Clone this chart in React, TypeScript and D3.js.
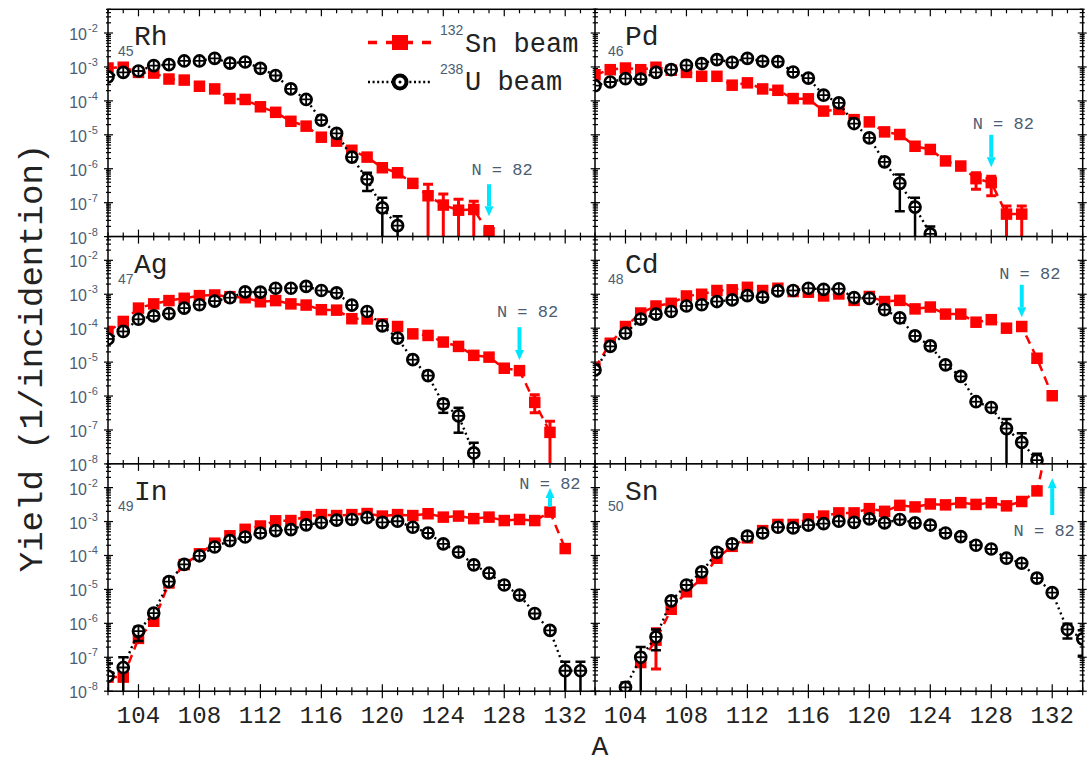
import React from 'react';
import * as d3 from 'd3';

// ---------- data (yield per incident ion), consecutive mass numbers from the start value ----------
const xDomain = [102, 134];
const yDomain = [1e-8, 0.05];
const xTickLabels = [104, 108, 112, 116, 120, 124, 128, 132];
const yTickExponents = [-8, -7, -6, -5, -4, -3, -2];

const panelElements = ['Rh', 'Pd', 'Ag', 'Cd', 'In', 'Sn'];
const panelZ = ['45', '46', '47', '48', '49', '50'];

const rhSnStart = 102;
const rhSn = [9.3e-4, 9.8e-4, 6.9e-4, 6.6e-4, 4.4e-4, 4.1e-4, 2.7e-4, 2.25e-4, 1.17e-4, 1.1e-4, 6.7e-5, 4.6e-5, 2.5e-5, 1.8e-5, 8.5e-6, 6.5e-6, 3.5e-6, 2.2e-6, 1.07e-6, 7.6e-7, 3.7e-7, 1.6e-7, 8.5e-8, 6e-8, 6.3e-8, 1.3e-8];
const rhUStart = 102;
const rhU = [5.1e-4, 6.9e-4, 7.6e-4, 1.1e-3, 1.17e-3, 1.5e-3, 1.5e-3, 1.8e-3, 1.3e-3, 1.4e-3, 9.1e-4, 5.6e-4, 2.25e-4, 1.1e-4, 2.7e-5, 1.1e-5, 2.2e-6, 4.9e-7, 7e-8, 2.1e-8];

const pdSnStart = 102;
const pdSn = [5.9e-4, 8.3e-4, 9.3e-4, 8.3e-4, 9.8e-4, 8e-4, 6.9e-4, 5.3e-4, 5.3e-4, 2.9e-4, 3.4e-4, 2.25e-4, 2.05e-4, 1.17e-4, 1.15e-4, 5e-5, 5.6e-5, 2.8e-5, 2.4e-5, 1.22e-5, 1.02e-5, 4.6e-6, 3.7e-6, 1.7e-6, 1.2e-6, 5.1e-7, 3.9e-7, 4.6e-8, 4.6e-8];
const pdUStart = 102;
const pdU = [2.8e-4, 3.6e-4, 4.5e-4, 4.4e-4, 6.9e-4, 8.3e-4, 1.12e-3, 1.25e-3, 1.65e-3, 1.37e-3, 1.8e-3, 1.47e-3, 1.44e-3, 7.1e-4, 4.7e-4, 1.47e-4, 8.7e-5, 2.15e-5, 8.1e-6, 1.6e-6, 3.7e-7, 7.4e-8, 1.2e-8];

const agSnStart = 102;
const agSn = [8e-5, 1.58e-4, 3.9e-4, 5.2e-4, 6.5e-4, 7.6e-4, 9.1e-4, 9.5e-4, 8.5e-4, 7.9e-4, 6e-4, 6.5e-4, 5.2e-4, 4.8e-4, 3.5e-4, 3.4e-4, 1.9e-4, 1.87e-4, 1.34e-4, 1.12e-4, 6.8e-5, 6.1e-5, 3.9e-5, 2.9e-5, 1.58e-5, 1.4e-5, 6.6e-6, 5.6e-6, 6.5e-7, 8.5e-8];
const agUStart = 102;
const agU = [4.8e-5, 8e-5, 1.83e-4, 2.3e-4, 2.7e-4, 3.9e-4, 4.9e-4, 6.3e-4, 7.9e-4, 1.17e-3, 1.15e-3, 1.5e-3, 1.5e-3, 1.7e-3, 1.29e-3, 1.1e-3, 4.8e-4, 3.1e-4, 1.17e-4, 5.1e-5, 1.18e-5, 4e-6, 5.9e-7, 2.6e-7, 2.1e-8];

const cdSnStart = 102;
const cdSn = [6.6e-6, 3.6e-5, 1.12e-4, 2.8e-4, 4.5e-4, 5.4e-4, 8.9e-4, 1e-3, 1.29e-3, 1.35e-3, 1.6e-3, 1.29e-3, 1.5e-3, 1.2e-3, 1.15e-3, 8.9e-4, 1.02e-3, 6.6e-4, 8.6e-4, 6.1e-4, 6.6e-4, 3.7e-4, 4.2e-4, 2.6e-4, 2.6e-4, 1.5e-4, 1.78e-4, 1e-4, 1.12e-4, 1.3e-5, 1.02e-6];
const cdUStart = 102;
const cdU = [5.9e-6, 2.9e-5, 7.1e-5, 1.86e-4, 2.6e-4, 3.1e-4, 4.5e-4, 4.9e-4, 6.1e-4, 6.8e-4, 9.1e-4, 8.2e-4, 1.26e-3, 1.29e-3, 1.5e-3, 1.4e-3, 1.45e-3, 8e-4, 7.6e-4, 3.5e-4, 2e-4, 5.9e-5, 3e-5, 8.3e-6, 3.8e-6, 6.8e-7, 4.6e-7, 1.1e-7, 4.3e-8, 1.3e-8];

const inSnStart = 102;
const inSn = [2.6e-8, 2.6e-8, 3.6e-7, 1.15e-6, 1.55e-5, 5.4e-5, 1.12e-4, 2.3e-4, 3.8e-4, 5.9e-4, 7.4e-4, 1.05e-3, 1.07e-3, 1.4e-3, 1.6e-3, 1.5e-3, 1.6e-3, 1.72e-3, 1.45e-3, 1.6e-3, 1.5e-3, 1.7e-3, 1.35e-3, 1.45e-3, 1.22e-3, 1.35e-3, 1.07e-3, 1.15e-3, 1.07e-3, 1.9e-3, 1.6e-4];
const inUStart = 102;
const inU = [2.8e-8, 5e-8, 5.9e-7, 2e-6, 1.7e-5, 5.5e-5, 9.8e-5, 1.78e-4, 2.75e-4, 3.5e-4, 4.6e-4, 5.4e-4, 5.8e-4, 8e-4, 9.3e-4, 1.1e-3, 1.15e-3, 1.3e-3, 9.5e-4, 1.02e-3, 6.8e-4, 4.6e-4, 2.2e-4, 1.26e-4, 5.3e-5, 3e-5, 1.35e-5, 6.8e-6, 1.95e-6, 6.2e-7, 4e-8, 4e-8];

const snSnStart = 105;
const snSn = [7e-8, 3.2e-7, 2.6e-6, 8.5e-6, 2.1e-5, 8.3e-5, 1.86e-4, 3.3e-4, 5.4e-4, 8.2e-4, 8.2e-4, 1.2e-3, 1.45e-3, 1.8e-3, 1.8e-3, 2.4e-3, 2e-3, 3e-3, 2.7e-3, 3.3e-3, 3.1e-3, 3.6e-3, 3.2e-3, 3.6e-3, 2.9e-3, 3.9e-3, 8e-3, 0.8];
const snUStart = 104;
const snU = [1.3e-8, 1e-7, 4e-7, 4.6e-6, 1.35e-5, 3.3e-5, 1.23e-4, 2.2e-4, 3.7e-4, 4.6e-4, 6.8e-4, 6.5e-4, 7.8e-4, 8.7e-4, 1.02e-3, 9.5e-4, 1.2e-3, 9.1e-4, 1.15e-3, 9.1e-4, 7.8e-4, 4.6e-4, 3.6e-4, 2e-4, 1.55e-4, 8.3e-5, 5.9e-5, 2.15e-5, 8e-6, 6.6e-7, 3.5e-7];

// visible (large) error bars: [A, low, high]; low 1e-9 = reaches the axis
const rhSnErr = [[123, 1e-9, 3.5e-7], [124, 1e-9, 1.8e-7], [125, 1e-9, 1.26e-7], [126, 1e-9, 1.1e-7], [127, 1e-9, 2e-8]];
const rhUErr = [[119, 2.2e-7, 7.6e-7], [120, 1e-9, 1.4e-7], [121, 1e-9, 4e-8]];
const pdSnErr = [[127, 2.5e-7, 7.6e-7], [128, 1.6e-7, 6e-7], [129, 1e-9, 8e-8], [130, 1e-9, 8e-8]];
const pdUErr = [[122, 5.6e-8, 6.8e-7], [123, 1e-9, 1.4e-7], [124, 1e-9, 2e-8]];
const agSnErr = [[130, 3.2e-7, 1.1e-6], [131, 1e-9, 1.8e-7]];
const agUErr = [[124, 3.2e-7, 7.9e-7], [125, 8.3e-8, 4.5e-7], [126, 1e-9, 4.2e-8]];
const cdSnErr = [];
const cdUErr = [[129, 1e-9, 2.1e-7], [130, 1e-9, 8e-8], [131, 1e-9, 2e-8]];
const inSnErr = [];
const inUErr = [[102, 1e-9, 6.6e-8], [103, 1e-9, 1e-7], [104, 3e-7, 8e-7], [132, 1e-9, 7.4e-8], [133, 1e-9, 7.4e-8]];
const snSnErr = [[106, 4.5e-8, 6.9e-7]];
const snUErr = [[104, 1e-9, 1.8e-8], [105, 1e-9, 2e-7], [106, 1.6e-7, 6.6e-7], [133, 3.6e-7, 9.8e-7], [134, 1.1e-7, 6.3e-7]];

// N = 82 markers: mass, tail value, head value
const arrowA = [127, 128, 129, 130, 131, 132];
const arrowTail = [3.5e-7, 1e-5, 1.07e-4, 1.9e-3, 2.7e-3, 1.55e-3];
const arrowHead = [4e-8, 1.1e-6, 1.15e-5, 2.1e-4, 9.8e-3, 1.9e-2];
const arrowLabel = 'N = 82';

const snStarts = [rhSnStart, pdSnStart, agSnStart, cdSnStart, inSnStart, snSnStart];
const snSeries = [rhSn, pdSn, agSn, cdSn, inSn, snSn];
const uStarts = [rhUStart, pdUStart, agUStart, cdUStart, inUStart, snUStart];
const uSeries = [rhU, pdU, agU, cdU, inU, snU];
const snErrs = [rhSnErr, pdSnErr, agSnErr, cdSnErr, inSnErr, snSnErr];
const uErrs = [rhUErr, pdUErr, agUErr, cdUErr, inUErr, snUErr];

// ---------- layout ----------
const W = 1089;
const H = 764;
const PW = 487.7;
const PH = 227.3;
const COL_X = [108, 595];
const ROW_Y = [9.3, 236.6, 463.9];

const RED = '#ff0000';
const CYAN = '#00e6ff';
const LABEL_GRAY = '#4b5d73';
const TEXT_DARK = '#222222';
const MONO = '"Liberation Mono", "DejaVu Sans Mono", monospace';
const SANS = '"Liberation Sans", Arial, sans-serif';

// N=82 label offsets relative to arrow
const labelDx = [13, 12, 8, 8, 0, -8];
const labelDy = [-15, -12, -16, -12, -5, 15];

const x = d3.scaleLinear().domain(xDomain).range([0, PW]);
const y = d3.scaleLog().domain(yDomain).range([PH, 0]);

const xTicks = d3.range(xDomain[0], xDomain[1] + 1);
const yTicks: { v: number; major: boolean }[] = [];
yTickExponents.forEach((e) => {
  for (let m = 1; m <= 9; m++) {
    const v = m * Math.pow(10, e);
    if (v <= yDomain[1] * 1.0001) yTicks.push({ v, major: m === 1 });
  }
});

function toPoints(start: number, vals: number[]) {
  return vals.map((v, k) => ({ a: start + k, v }));
}

function errFor(list: number[][], a: number, v: number) {
  const e = list.find((d) => d[0] === a);
  if (e) return { lo: e[1], hi: e[2] };
  return { lo: v / 1.15, hi: v * 1.15 };
}

function Panel({ i }: { i: number }) {
  const col = i % 2;
  const row = Math.floor(i / 2);
  const left = COL_X[col];
  const top = ROW_Y[row];
  const clipId = `clip-${i}`;
  const sn = toPoints(snStarts[i], snSeries[i]);
  const u = toPoints(uStarts[i], uSeries[i]);
  const line = d3
    .line<{ a: number; v: number }>()
    .x((d) => x(d.a))
    .y((d) => y(d.v));

  const isOuterLeft = col === 0;
  const isOuterRight = col === 1;
  const isOuterBottom = row === 2;

  const ax = x(arrowA[i]);
  const yT = y(arrowTail[i]);
  const yH = y(arrowHead[i]);
  const dir = yH > yT ? 1 : -1;
  const headLen = 10;
  const headHalf = 4.5;
  const labelY = labelDy[i] > 0 ? Math.max(yT, yH) + labelDy[i] : Math.min(yT, yH) + labelDy[i];

  const subX = col === 0 ? 10 : 13;
  const elX = col === 0 ? 26 : 30;

  return (
    <g transform={`translate(${left},${top})`}>
      <defs>
        <clipPath id={clipId}>
          <rect x={0} y={0} width={PW} height={PH} />
        </clipPath>
      </defs>
      <rect x={0} y={0} width={PW} height={PH} fill="#fff" />

      {/* ticks */}
      <g stroke="#000" strokeWidth={1.2}>
        {xTicks.map((a) => {
          const major = a % 4 === 0;
          const len = major ? 7 : 4;
          return (
            <g key={`xt${a}`}>
              <line x1={x(a)} x2={x(a)} y1={PH} y2={PH - len} />
              <line x1={x(a)} x2={x(a)} y1={0} y2={len} />
              {isOuterBottom && <line x1={x(a)} x2={x(a)} y1={PH} y2={PH + len} />}
            </g>
          );
        })}
        {yTicks.map((t, k) => {
          const len = t.major ? 5 : 3;
          const out = t.major ? 4 : 2;
          const yy = y(t.v);
          return (
            <g key={`yt${k}`}>
              <line x1={0} x2={len} y1={yy} y2={yy} />
              <line x1={PW} x2={PW - len} y1={yy} y2={yy} />
              {isOuterLeft && <line x1={0} x2={-out} y1={yy} y2={yy} />}
              {isOuterRight && <line x1={PW} x2={PW + out} y1={yy} y2={yy} />}
            </g>
          );
        })}
      </g>

      {/* y tick labels */}
      {col === 0 &&
        yTickExponents.map((e) => {
          const yy = y(Math.pow(10, e));
          return (
            <text key={`yl${e}`} fill={LABEL_GRAY} fontFamily={SANS}>
              <tspan x={-21} y={yy + 7} fontSize={16} textAnchor="end">10</tspan>
              <tspan x={-20} y={yy - 1} fontSize={11} textAnchor="start">{`-${-e}`}</tspan>
            </text>
          );
        })}

      {/* data */}
      <g clipPath={`url(#${clipId})`}>
        <path d={line(sn) || ''} fill="none" stroke={RED} strokeWidth={2.5} strokeDasharray="9 6" />
        {sn.map((d) => {
          const e = errFor(snErrs[i], d.a, d.v);
          const yl = y(Math.max(e.lo, 1e-9));
          const yh = y(e.hi);
          return (
            <g key={`se${d.a}`} stroke={RED} strokeWidth={3}>
              <line x1={x(d.a)} x2={x(d.a)} y1={yl} y2={yh} />
              <line x1={x(d.a) - 5} x2={x(d.a) + 5} y1={yh} y2={yh} />
              <line x1={x(d.a) - 5} x2={x(d.a) + 5} y1={yl} y2={yl} />
            </g>
          );
        })}
        {sn.map((d) => (
          <rect key={`sm${d.a}`} x={x(d.a) - 5.75} y={y(d.v) - 5.75} width={11.5} height={11.5} fill={RED} />
        ))}

        <path d={line(u) || ''} fill="none" stroke="#000" strokeWidth={2.4} strokeDasharray="2 3.5" />
        {u.map((d) => {
          const e = errFor(uErrs[i], d.a, d.v);
          const yl = y(Math.max(e.lo, 1e-9));
          const yh = y(e.hi);
          return (
            <g key={`ue${d.a}`} stroke="#000" strokeWidth={2.5}>
              <line x1={x(d.a)} x2={x(d.a)} y1={yl} y2={yh} />
              <line x1={x(d.a) - 5} x2={x(d.a) + 5} y1={yh} y2={yh} />
              <line x1={x(d.a) - 5} x2={x(d.a) + 5} y1={yl} y2={yl} />
            </g>
          );
        })}
        {u.map((d) => {
          const cx = x(d.a);
          const cy = y(d.v);
          return (
            <g key={`um${d.a}`}>
              <circle cx={cx} cy={cy} r={5.5} fill="#fff" stroke="#000" strokeWidth={2.7} />
              <line x1={cx - 5} x2={cx + 5} y1={cy} y2={cy} stroke="#000" strokeWidth={1.8} />
              <line x1={cx} x2={cx} y1={cy - 5} y2={cy + 5} stroke="#000" strokeWidth={1.8} />
            </g>
          );
        })}
      </g>

      {/* N = 82 arrow */}
      <line x1={ax} x2={ax} y1={yT} y2={yH - dir * headLen} stroke={CYAN} strokeWidth={4} />
      <path
        d={`M${ax - headHalf},${yH - dir * headLen} L${ax + headHalf},${yH - dir * headLen} L${ax},${yH} Z`}
        fill={CYAN}
      />
      <text x={ax + labelDx[i]} y={labelY + 6} textAnchor="middle" fontFamily={MONO} fontSize={17} fill={LABEL_GRAY}>
        {arrowLabel}
      </text>

      {/* element label */}
      <text x={subX} y={47} fontFamily={SANS} fontSize={14} fill={LABEL_GRAY}>
        {panelZ[i]}
      </text>
      <text x={elX} y={36} fontFamily={MONO} fontSize={28} fill={TEXT_DARK}>
        {panelElements[i]}
      </text>

      {/* frame */}
      <rect x={0} y={0} width={PW} height={PH} fill="none" stroke="#000" strokeWidth={1.5} />
    </g>
  );
}

export default function App() {
  const bottom = ROW_Y[2] + PH;
  return (
    <svg
      width={W}
      height={H}
      viewBox={`0 0 ${W} ${H}`}
      style={{ position: 'absolute', left: 0, top: 0, background: '#fff' }}
    >
      <rect x={0} y={0} width={W} height={H} fill="#fff" />
      {panelElements.map((_, i) => (
        <Panel key={i} i={i} />
      ))}

      {/* x tick labels */}
      {COL_X.map((cx, c) =>
        xTickLabels.map((a) => (
          <text
            key={`xl${c}-${a}`}
            x={cx + x(a)}
            y={bottom + 32}
            textAnchor="middle"
            fontFamily={MONO}
            fontSize={24}
            fill={TEXT_DARK}
          >
            {a}
          </text>
        ))
      )}

      {/* legend */}
      <g>
        <line x1={368} x2={433} y1={42.5} y2={42.5} stroke={RED} strokeWidth={3.5} strokeDasharray="9 9" />
        <rect x={392} y={35} width={16} height={15} fill={RED} />
        <text fontFamily={SANS} fontSize={14} fill={LABEL_GRAY} x={440} y={35}>132</text>
        <text fontFamily={MONO} fontSize={27} fill={TEXT_DARK} x={465} y={52}>Sn beam</text>

        <line x1={368} x2={430} y1={82} y2={82} stroke="#000" strokeWidth={2.6} strokeDasharray="2 2.6" />
        <circle cx={400} cy={82} r={6.5} fill="#fff" stroke="#000" strokeWidth={4} />
        <circle cx={400} cy={82} r={1.5} fill="#000" />
        <text fontFamily={SANS} fontSize={14} fill={LABEL_GRAY} x={440} y={74}>238</text>
        <text fontFamily={MONO} fontSize={27} fill={TEXT_DARK} x={465} y={90}>U beam</text>
      </g>

      {/* axis titles */}
      <text
        transform={`translate(42,358) rotate(-90)`}
        textAnchor="middle"
        fontFamily={MONO}
        fontSize={34}
        fill={TEXT_DARK}
      >
        Yield (1/incidention)
      </text>
      <text x={600} y={755} textAnchor="middle" fontFamily={MONO} fontSize={28} fill={TEXT_DARK}>
        A
      </text>
    </svg>
  );
}
